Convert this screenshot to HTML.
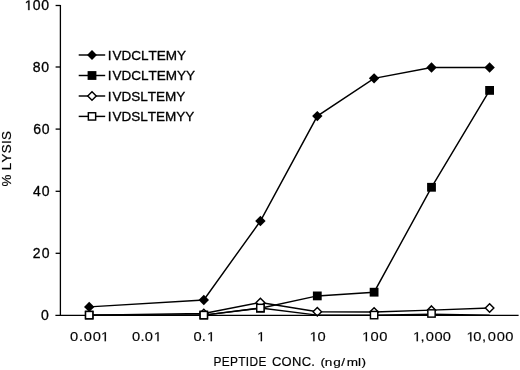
<!DOCTYPE html>
<html><head><meta charset="utf-8"><style>
html,body{margin:0;padding:0;background:#fff;}
body{width:520px;height:370px;overflow:hidden;}
svg{display:block;will-change:transform;font-family:"Liberation Sans",sans-serif;font-kerning:none;font-feature-settings:"kern" 0;}
text{stroke:#000;stroke-width:0.3px;}
.h{fill:none;stroke:none;}
.one{fill:#000;stroke:#000;stroke-width:0.15px;}
text.d{stroke-width:0.15px;}
text.y{stroke-width:0.3px;}
.oy{stroke-width:0.3px;}
.t text{stroke-width:0.2px;}
.t text.n{stroke-width:0.15px;}
</style></head><body>
<svg width="520" height="370" viewBox="0 0 520 370">
<path d="M60.4 4.9V315.3M55.4 315.3H518.6" fill="none" stroke="#000" stroke-width="1.3"/>
<path d="M55.6 253.30H60.4" stroke="#000" stroke-width="1.3"/>
<path d="M55.6 191.30H60.4" stroke="#000" stroke-width="1.3"/>
<path d="M55.6 129.10H60.4" stroke="#000" stroke-width="1.3"/>
<path d="M55.6 67.00H60.4" stroke="#000" stroke-width="1.3"/>
<path d="M55.6 5.50H60.4" stroke="#000" stroke-width="1.3"/>
<polyline points="89.20,306.90 203.80,299.93 260.40,221.01 317.30,116.09 374.10,78.33 431.50,67.50 489.60,67.50" fill="none" stroke="#000" stroke-width="1.45" stroke-linejoin="miter"/><path d="M89.20 301.70L94.40 306.90L89.20 312.10L84.00 306.90Z" fill="#000"/><path d="M203.80 294.73L209.00 299.93L203.80 305.13L198.60 299.93Z" fill="#000"/><path d="M260.40 215.81L265.60 221.01L260.40 226.21L255.20 221.01Z" fill="#000"/><path d="M317.30 110.89L322.50 116.09L317.30 121.29L312.10 116.09Z" fill="#000"/><path d="M374.10 73.13L379.30 78.33L374.10 83.53L368.90 78.33Z" fill="#000"/><path d="M431.50 62.30L436.70 67.50L431.50 72.70L426.30 67.50Z" fill="#000"/><path d="M489.60 62.30L494.80 67.50L489.60 72.70L484.40 67.50Z" fill="#000"/>
<polyline points="89.20,315.10 203.80,315.10 260.40,308.29 317.30,295.91 374.10,292.20 431.50,187.28 489.60,90.40" fill="none" stroke="#000" stroke-width="1.45" stroke-linejoin="miter"/><rect x="84.80" y="310.70" width="8.80" height="8.80" fill="#000"/><rect x="199.40" y="310.70" width="8.80" height="8.80" fill="#000"/><rect x="256.00" y="303.89" width="8.80" height="8.80" fill="#000"/><rect x="312.90" y="291.51" width="8.80" height="8.80" fill="#000"/><rect x="369.70" y="287.80" width="8.80" height="8.80" fill="#000"/><rect x="427.10" y="182.88" width="8.80" height="8.80" fill="#000"/><rect x="485.20" y="86.00" width="8.80" height="8.80" fill="#000"/>
<polyline points="89.20,315.10 203.80,313.55 260.40,302.41 317.30,311.70 374.10,312.00 431.50,310.15 489.60,307.98" fill="none" stroke="#000" stroke-width="1.45" stroke-linejoin="miter"/><path d="M203.80 309.30L208.05 313.55L203.80 317.80L199.55 313.55Z" fill="#fff" stroke="#000" stroke-width="1.45"/><path d="M260.40 298.16L264.65 302.41L260.40 306.66L256.15 302.41Z" fill="#fff" stroke="#000" stroke-width="1.45"/><path d="M317.30 307.45L321.55 311.70L317.30 315.95L313.05 311.70Z" fill="#fff" stroke="#000" stroke-width="1.45"/><path d="M374.10 307.75L378.35 312.00L374.10 316.25L369.85 312.00Z" fill="#fff" stroke="#000" stroke-width="1.45"/><path d="M431.50 305.90L435.75 310.15L431.50 314.40L427.25 310.15Z" fill="#fff" stroke="#000" stroke-width="1.45"/><path d="M489.60 303.73L493.85 307.98L489.60 312.23L485.35 307.98Z" fill="#fff" stroke="#000" stroke-width="1.45"/>
<polyline points="89.20,315.10 203.80,315.10 260.40,307.98 317.30,315.10 374.10,315.10 431.50,314.17 489.60,315.10" fill="none" stroke="#000" stroke-width="1.45" stroke-linejoin="miter"/><rect x="85.55" y="311.45" width="7.30" height="7.30" fill="#fff" stroke="#000" stroke-width="1.45"/><rect x="200.15" y="311.45" width="7.30" height="7.30" fill="#fff" stroke="#000" stroke-width="1.45"/><rect x="256.75" y="304.33" width="7.30" height="7.30" fill="#fff" stroke="#000" stroke-width="1.45"/><rect x="370.45" y="311.45" width="7.30" height="7.30" fill="#fff" stroke="#000" stroke-width="1.45"/><rect x="427.85" y="309.82" width="7.30" height="7.30" fill="#fff" stroke="#000" stroke-width="1.45"/>
<path d="M78.7 55.0H105.2" stroke="#000" stroke-width="1.45"/>
<path d="M92.00 50.05L96.95 55.00L92.00 59.95L87.05 55.00Z" fill="#000"/>
<path d="M78.7 75.5H105.2" stroke="#000" stroke-width="1.45"/>
<rect x="87.60" y="71.10" width="8.80" height="8.80" fill="#000"/>
<path d="M78.7 96.0H105.2" stroke="#000" stroke-width="1.45"/>
<path d="M92.00 91.75L96.25 96.00L92.00 100.25L87.75 96.00Z" fill="#fff" stroke="#000" stroke-width="1.45"/>
<path d="M78.7 116.4H105.2" stroke="#000" stroke-width="1.45"/>
<rect x="88.35" y="112.75" width="7.30" height="7.30" fill="#fff" stroke="#000" stroke-width="1.45"/>
<text transform="translate(107.80 59.70) scale(1.0578 1)" font-size="12.8">I<tspan dx="0.889">VDCLTEMY</tspan></text>
<text transform="translate(107.80 80.20) scale(1.0578 1)" font-size="12.8">I<tspan dx="0.889">VDCLTEMYY</tspan></text>
<text transform="translate(107.80 100.70) scale(1.0578 1)" font-size="12.8">I<tspan dx="0.889">VDSLTEMY</tspan></text>
<text transform="translate(107.80 121.10) scale(1.0578 1)" font-size="12.8">I<tspan dx="0.889">VDSLTEMYY</tspan></text>
<text class="d y" x="0.00" transform="translate(40.95 319.70) scale(1.0000 1)" font-size="14">0</text>
<text class="d y" x="0.00 8.96" transform="translate(32.70 257.90) scale(1.0000 1)" font-size="14">20</text>
<text class="d y" x="0.00 8.97" transform="translate(32.88 195.90) scale(1.0000 1)" font-size="14">40</text>
<text class="d y" x="0.00 8.66" transform="translate(33.19 133.70) scale(1.0000 1)" font-size="14">60</text>
<text class="d y" x="0.00 8.36" transform="translate(32.79 71.60) scale(1.0000 1)" font-size="14">80</text>
<text class="d y" x="0.00 8.05 16.65" transform="translate(24.70 10.10) scale(1.0000 1)" font-size="14"><tspan class="h">1</tspan>00</text><polygon class="one oy" points="28.22,10.10 29.46,10.10 29.46,0.47 28.33,0.47 26.05,2.03 26.05,3.20 28.22,1.64"/>
<text class="d" x="0.00 7.90 12.21 20.18 27.40" transform="translate(69.98 341.20) scale(1.1300 1)" font-size="13.0">0.00<tspan class="h">1</tspan></text><polygon class="one" points="104.63,341.20 105.93,341.20 105.93,332.26 104.74,332.26 102.35,333.71 102.35,334.79 104.63,333.35"/>
<text class="d" x="0.00 7.55 11.33 19.17" transform="translate(131.98 341.20) scale(1.1300 1)" font-size="13.0">0.0<tspan class="h">1</tspan></text><polygon class="one" points="157.33,341.20 158.63,341.20 158.63,332.26 157.44,332.26 155.05,333.71 155.05,334.79 157.33,333.35"/>
<text class="d" x="0.00 7.29 11.87" transform="translate(193.53 341.20) scale(1.1300 1)" font-size="13.0">0.<tspan class="h">1</tspan></text><polygon class="one" points="210.63,341.20 211.93,341.20 211.93,332.26 210.74,332.26 208.35,333.71 208.35,334.79 210.63,333.35"/>
<text class="d" x="0.00" transform="translate(257.04 341.20) scale(1.1300 1)" font-size="13.0"><tspan class="h">1</tspan></text><polygon class="one" points="260.73,341.20 262.03,341.20 262.03,332.26 260.84,332.26 258.45,333.71 258.45,334.79 260.73,333.35"/>
<text class="d" x="0.00 7.03" transform="translate(309.54 341.20) scale(1.1300 1)" font-size="13.0"><tspan class="h">1</tspan>0</text><polygon class="one" points="313.23,341.20 314.53,341.20 314.53,332.26 313.34,332.26 310.95,333.71 310.95,334.79 313.23,333.35"/>
<text class="d" x="0.00 7.56 15.34" transform="translate(362.04 341.20) scale(1.1300 1)" font-size="13.0"><tspan class="h">1</tspan>00</text><polygon class="one" points="365.73,341.20 367.03,341.20 367.03,332.26 365.84,332.26 363.45,333.71 363.45,334.79 365.73,333.35"/>
<text class="d" x="0.00 6.63 11.36 19.15 26.49" transform="translate(412.94 341.20) scale(1.1300 1)" font-size="13.0"><tspan class="h">1</tspan>,000</text><polygon class="one" points="416.63,341.20 417.93,341.20 417.93,332.26 416.74,332.26 414.35,333.71 414.35,334.79 416.63,333.35"/>
<text class="d" x="0.00 6.05 13.80 18.88 26.85 34.37" transform="translate(466.44 341.20) scale(1.1300 1)" font-size="13.0"><tspan class="h">1</tspan>0,000</text><polygon class="one" points="470.13,341.20 471.43,341.20 471.43,332.26 470.24,332.26 467.85,333.71 467.85,334.79 470.13,333.35"/>
<g class="t">
<text transform="translate(213.51 365.80) scale(0.9297 1)" font-size="12.8" letter-spacing="0.355">PEPTIDE</text>
<text transform="translate(271.96 365.80) scale(1.0133 1)" font-size="12.8" letter-spacing="0.296">CONC.</text>
<text class="n" x="0.00 3.29 10.14 16.46 20.83 29.62 32.51" transform="translate(320.56 365.50) scale(1.2600 1)" font-size="10.8">(ng/ml)</text>
<text transform="translate(10.95 186.4) rotate(-90) scale(0.9881 1)" font-size="13.5" letter-spacing="0.314">% LYSIS</text>
</g>
</svg>
</body></html>
